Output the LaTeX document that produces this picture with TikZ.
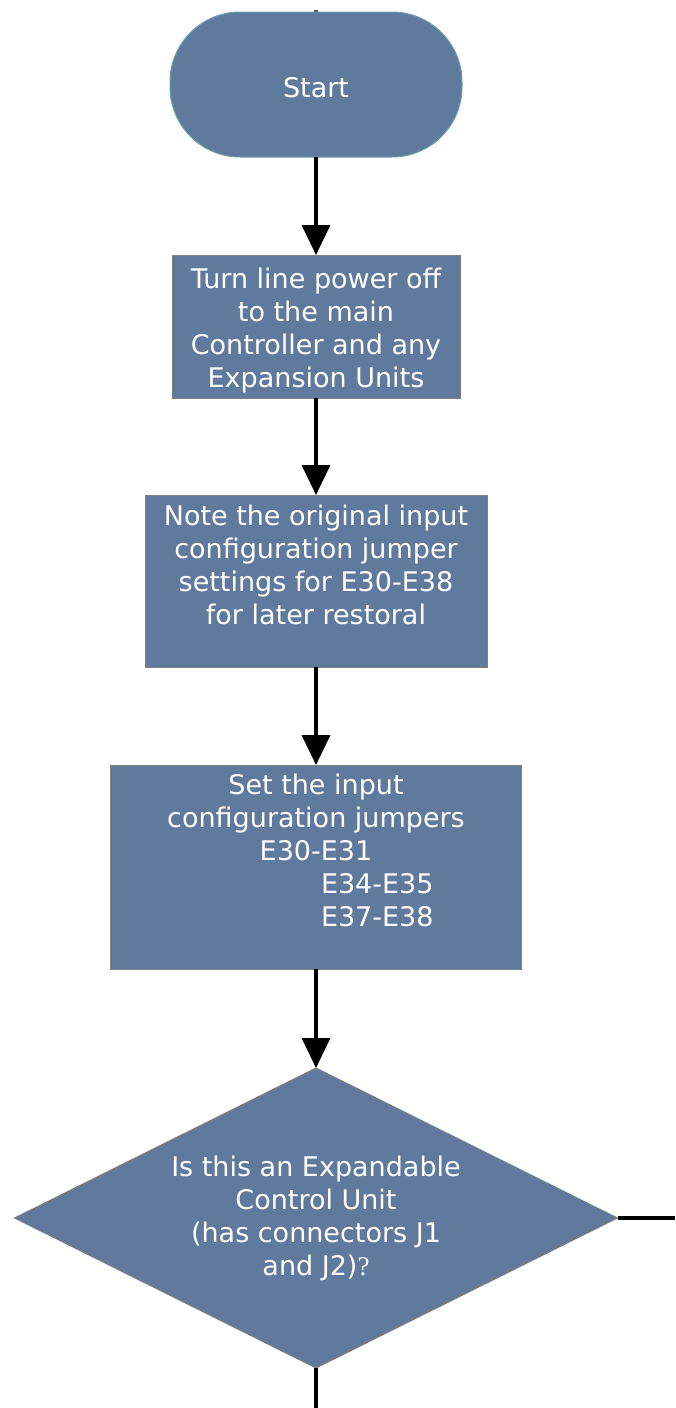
\documentclass[tikz,border=0pt]{standalone}
\usepackage{fontspec}
\setmainfont{DejaVu Sans}
\newfontfamily\qmark{Liberation Serif}
\usetikzlibrary{positioning,shapes.geometric,arrows.meta}
\definecolor{boxblue}{RGB}{96,122,158}
\definecolor{boxedge}{RGB}{128,128,128}
\definecolor{startedge}{RGB}{106,163,168}

\begin{document}
\begin{tikzpicture}[x=1pt,y=1pt,
   every node/.style={fill=boxblue,text=white,align=center,outer sep=0pt,
      font=\fontsize{27}{33}\selectfont},
   stepbox/.style={draw=boxedge,line width=1pt},
   flow/.style={line width=3.5pt,-{Triangle[width=28pt,length=30pt]}},
   stub/.style={line width=3.5pt},
   node distance=98pt]
\useasboundingbox (0,0) rectangle (675,-1408);
\node[draw=startedge,line width=1pt,rounded corners=70pt,
      minimum width=292pt,minimum height=145pt] (start) at (316,-84.5) {\rule{0pt}{26pt}Start};
\node[stepbox,minimum width=288pt,minimum height=143pt,below=of start] (poweroff)
   {\rule{0pt}{29pt}Turn line power off\\to the main\\Controller and any\\Expansion Units};
\node[stepbox,minimum width=342pt,minimum height=172pt,below=97pt of poweroff] (note)
   {Note the original input\\configuration jumper\\settings for E30-E38\\for later restoral\\ \mbox{}};
\node[stepbox,minimum width=411pt,minimum height=204pt,below=of note] (setjump)
   {Set the input\\configuration jumpers\\E30-E31\\
    \hphantom{E34-E35}\hspace*{10pt}E34-E35\\
    \hphantom{E37-E38}\hspace*{10pt}E37-E38\\ \mbox{}};
\node[stepbox,diamond,shape aspect=2,inner sep=0pt,
      minimum width=603pt,minimum height=300pt,below=99pt of setjump] (expand)
   {Is this an Expandable\\Control Unit\\(has connectors J1\\and J2){\qmark ?}};
\coordinate (top) at (316,-10);
\coordinate (rightend) at (675,-1218);
\coordinate (bottomend) at (316,-1408);
\draw[stub,gray!70!black] (top) -- (start.north);
\draw[flow] (start) -- (poweroff);
\draw[flow] (poweroff) -- (note);
\draw[flow] (note) -- (setjump);
\draw[flow] (setjump) -- (expand);
\draw[stub] (expand.east) -- (rightend);
\draw[stub] (expand.south) -- (bottomend);
\end{tikzpicture}
\end{document}
